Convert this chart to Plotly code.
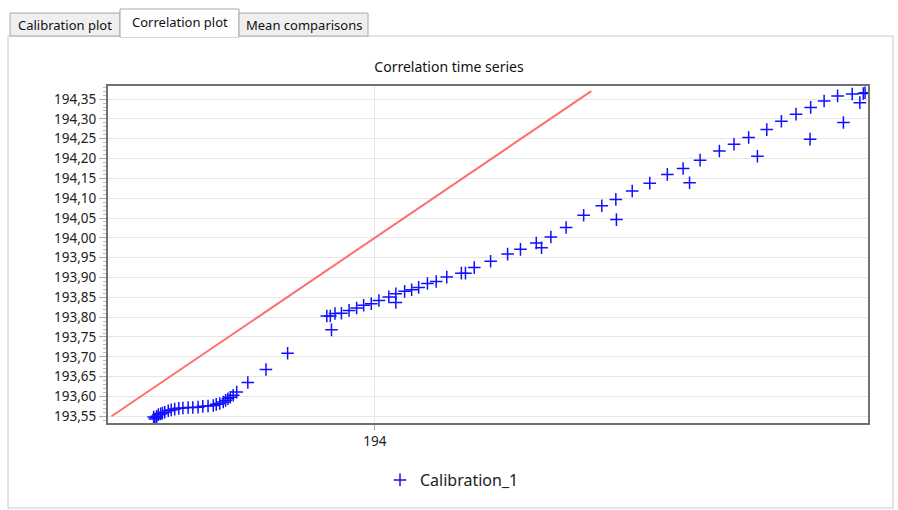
import plotly.graph_objects as go

x_vals = [193.622, 193.624, 193.627, 193.627, 193.630, 193.634, 193.637, 193.641, 193.647,
          193.652, 193.658, 193.665, 193.672, 193.681, 193.689, 193.698, 193.706, 193.715,
          193.724, 193.729, 193.735, 193.741, 193.745, 193.749, 193.753, 193.758, 193.764,
          193.783, 193.814, 193.851,
          193.918, 193.924, 193.926, 193.932, 193.943, 193.956, 193.969, 193.981, 193.994,
          194.007, 194.024, 194.036, 194.036, 194.051, 194.063, 194.075, 194.090, 194.105,
          194.123, 194.148, 194.155, 194.170, 194.198, 194.227, 194.249, 194.276, 194.285,
          194.301, 194.327, 194.357, 194.388, 194.412, 194.413, 194.440, 194.470, 194.500,
          194.527, 194.538, 194.556, 194.589, 194.614, 194.639, 194.654, 194.670, 194.695,
          194.720, 194.745, 194.744, 194.768, 194.791, 194.801, 194.816, 194.829, 194.835,
          194.838]
y_vals = [193.548, 193.543, 193.550, 193.546, 193.554, 193.556, 193.558, 193.560, 193.564,
          193.566, 193.568, 193.570, 193.571, 193.572, 193.572, 193.573, 193.575, 193.576,
          193.577, 193.580, 193.582, 193.586, 193.590, 193.594, 193.598, 193.603, 193.611,
          193.635, 193.668, 193.709,
          193.803, 193.803, 193.768, 193.809, 193.810, 193.817, 193.823, 193.830, 193.834,
          193.842, 193.851, 193.859, 193.837, 193.865, 193.869, 193.875, 193.885, 193.890,
          193.901, 193.911, 193.911, 193.925, 193.941, 193.959, 193.971, 193.987, 193.975,
          194.002, 194.026, 194.057, 194.081, 194.097, 194.046, 194.118, 194.138, 194.160,
          194.175, 194.139, 194.196, 194.219, 194.236, 194.253, 194.206, 194.273, 194.294,
          194.312, 194.329, 194.249, 194.345, 194.358, 194.291, 194.363, 194.341, 194.364,
          194.366]
ref_line = [193.55, 194.37]
series_name = "Calibration_1"
chart_title = "Correlation time series"
tab_labels = ["Calibration plot", "Correlation plot", "Mean comparisons"]

W, H = 898, 510
L, R, T, B = 108, 868, 86, 423  # plot area in pixels


def px(x):
    return (x - L) / (R - L)


def py(y):
    return (B - y) / (B - T)


FONT = "Noto Sans"

fig = go.Figure()
fig.add_trace(go.Scatter(x=ref_line, y=ref_line, mode="lines",
                         line=dict(color="#ff6e6e", width=2),
                         showlegend=False, hoverinfo="skip"))
fig.add_trace(go.Scatter(x=x_vals, y=y_vals, mode="markers", name=series_name,
                         marker=dict(symbol="cross-thin", size=9, color="#1010ff",
                                     line=dict(width=1.5, color="#1010ff"))))

shapes = []
# panel border
shapes.append(dict(type="rect", xref="paper", yref="paper",
                   x0=px(8), x1=px(893), y0=py(508), y1=py(36),
                   line=dict(color="#c8c8c8", width=1), fillcolor="rgba(0,0,0,0)", layer="below"))
# tabs
tab_geo = [(10, 120, 13, False), (120, 239, 9, True), (239, 368, 13, False)]
annotations = []
for (x0, x1, y0, sel), lab in zip(tab_geo, tab_labels):
    shapes.append(dict(type="rect", xref="paper", yref="paper",
                       x0=px(x0), x1=px(x1), y0=py(37 if sel else 36), y1=py(y0),
                       line=dict(color="#a8a8a8", width=1),
                       fillcolor="#ffffff" if sel else "#efefef", layer="below"))
    annotations.append(dict(text=lab, xref="paper", yref="paper",
                            x=px((x0 + x1) / 2), y=py(22 if sel else 25),
                            showarrow=False, xanchor="center", yanchor="middle",
                            font=dict(family=FONT, size=13, color="#111111")))
# cover the panel top border under the selected tab
shapes.append(dict(type="line", xref="paper", yref="paper",
                   x0=px(121), x1=px(238), y0=py(36), y1=py(36),
                   line=dict(color="#ffffff", width=2), layer="below"))

fig.update_layout(
    width=W, height=H,
    margin=dict(l=L, r=W - R, t=T, b=H - B),
    paper_bgcolor="#ffffff", plot_bgcolor="#ffffff",
    separators=",.",
    font=dict(family=FONT, size=13, color="#222222"),
    title=dict(text=chart_title, x=0.5, xref="container", xanchor="center",
               y=1 - 67 / H, yref="container", yanchor="middle",
               font=dict(family=FONT, size=14, color="#111111")),
    showlegend=True,
    legend=dict(orientation="h", x=px(380), xanchor="left", y=py(480), yanchor="middle",
                font=dict(family=FONT, size=16, color="#222222"), bgcolor="rgba(0,0,0,0)"),
    shapes=shapes,
    annotations=annotations,
)
fig.update_xaxes(range=[193.544, 194.843], tickvals=[194], tickformat="d",
                 showgrid=True, gridcolor="#e6e6e6", gridwidth=1, zeroline=False,
                 showline=True, mirror=True, linecolor="#707070", linewidth=2,
                 ticks="outside", ticklen=5, tickcolor="#aaaaaa",
                 tickfont=dict(family=FONT, size=13.5, color="#222222"))
fig.update_yaxes(range=[193.533, 194.383], tick0=193.55, dtick=0.05, tickformat=".2f",
                 showgrid=True, gridcolor="#e6e6e6", gridwidth=1, zeroline=False,
                 showline=True, mirror=True, linecolor="#707070", linewidth=2,
                 ticks="outside", ticklen=7, tickcolor="#aaaaaa",
                 minor=dict(ticks="outside", ticklen=3, dtick=0.01, tickcolor="#bbbbbb", showgrid=False),
                 tickfont=dict(family=FONT, size=13.5, color="#222222"))

fig.write_html("out.html", config={"displayModeBar": False},
               post_script="document.body.style.margin='0';document.body.style.overflow='hidden';")
